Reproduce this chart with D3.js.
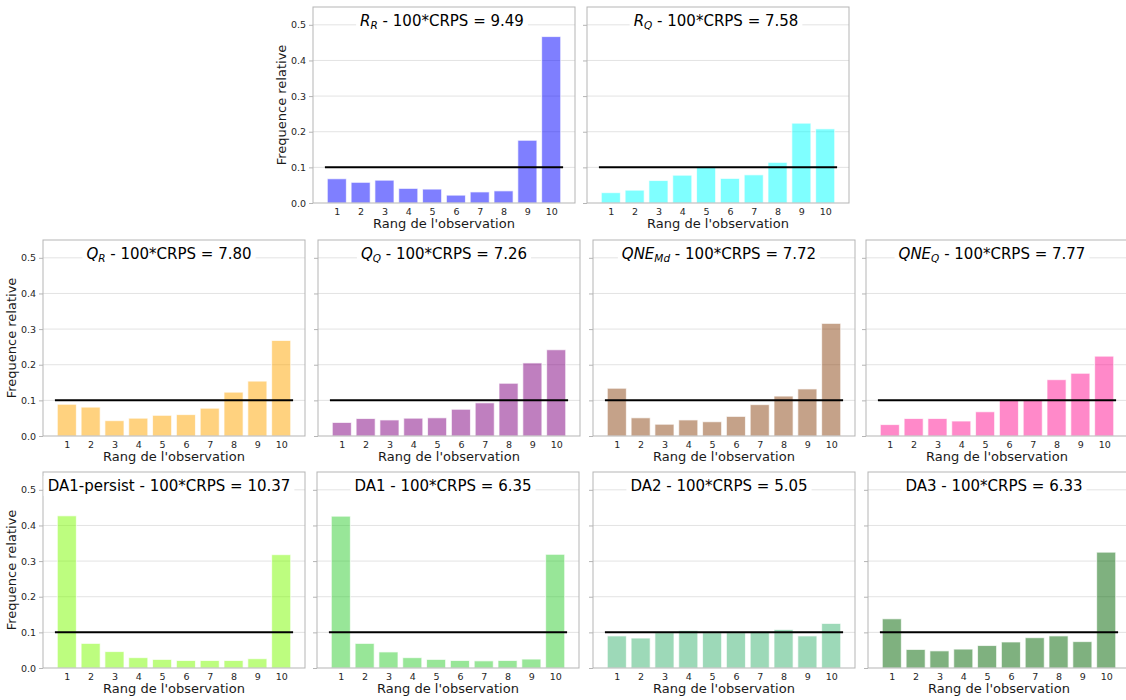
<!DOCTYPE html>
<html><head><meta charset="utf-8">
<script src="https://cdn.jsdelivr.net/npm/d3@7"></script>
<style>
body{margin:0;background:#fff;overflow:hidden}
svg{display:block}
text{font-family:"DejaVu Sans",sans-serif}
</style>
</head><body>
<svg id="c" width="1126" height="700"></svg>
<script>
// ---------- data ----------
const ranks = [1,2,3,4,5,6,7,8,9,10];
const yTickValues = [0, 0.1, 0.2, 0.3, 0.4, 0.5];
const yTickLabels = ["0.0","0.1","0.2","0.3","0.4","0.5"];
const uniformLevel = 0.1;
const xLabel = "Rang de l'observation";
const yLabel = "Frequence relative";

const modelNames = ["R_R","R_Q","Q_R","Q_Q","QNE_Md","QNE_Q","DA1-persist","DA1","DA2","DA3"];
const titleMain  = ["R","R","Q","Q","QNE","QNE","DA1-persist","DA1","DA2","DA3"];
const titleSub   = ["R","Q","R","Q","Md","Q","","","",""];
const crpsScores = ["9.49","7.58","7.80","7.26","7.72","7.77","10.37","6.35","5.05","6.33"];

const freqRR      = [0.068,0.058,0.064,0.041,0.039,0.022,0.031,0.034,0.176,0.467];
const freqRQ      = [0.029,0.036,0.063,0.078,0.100,0.069,0.079,0.114,0.224,0.208];
const freqQR      = [0.089,0.081,0.043,0.050,0.058,0.060,0.078,0.123,0.154,0.268];
const freqQQ      = [0.038,0.049,0.045,0.050,0.051,0.075,0.093,0.148,0.205,0.242];
const freqQNEMd   = [0.134,0.051,0.033,0.045,0.040,0.055,0.088,0.112,0.132,0.316];
const freqQNEQ    = [0.032,0.049,0.049,0.042,0.068,0.100,0.101,0.158,0.176,0.224];
const freqDA1p    = [0.427,0.069,0.046,0.029,0.024,0.021,0.021,0.021,0.026,0.318];
const freqDA1     = [0.426,0.069,0.045,0.029,0.024,0.021,0.020,0.021,0.025,0.319];
const freqDA2     = [0.090,0.084,0.099,0.105,0.099,0.099,0.102,0.108,0.090,0.125];
const freqDA3     = [0.138,0.052,0.048,0.053,0.063,0.073,0.085,0.090,0.074,0.325];

const seriesList = [freqRR,freqRQ,freqQR,freqQQ,freqQNEMd,freqQNEQ,freqDA1p,freqDA1,freqDA2,freqDA3];

// ---------- styles / layout ----------
const barColors = ["#0000ff","#00ffff","#ffa500","#800080","#8b4513","#ff1493","#7cfc00","#32cd32","#3cb371","#006400"];
const W = 262, H = 196;
const layout = [
  {l:313, t:7,   showY:true,  dx:-2},
  {l:587, t:7,   showY:false, dx:-2},
  {l:43,  t:240, showY:true,  dx:-5},
  {l:318, t:240, showY:false, dx:-5},
  {l:593, t:240, showY:false, dx:-5},
  {l:866, t:240, showY:false, dx:-5},
  {l:43,  t:472, showY:true,  dx:-5},
  {l:317, t:472, showY:false, dx:-5},
  {l:593, t:472, showY:false, dx:-5},
  {l:868, t:472, showY:false, dx:-5}
];

const svg = d3.select("#c");
const x = d3.scaleLinear().domain([0, 11]).range([0, W]);
const y = d3.scaleLinear().domain([0, 0.55]).range([H, 0]);

seriesList.forEach((vals, i) => {
  const L = layout[i];
  const g = svg.append("g").attr("transform", `translate(${L.l},${L.t})`);

  // gridlines
  g.append("g").selectAll("line").data(yTickValues.slice(1)).join("line")
    .attr("x1", 0).attr("x2", W)
    .attr("y1", d => y(d)).attr("y2", d => y(d))
    .attr("stroke", "#e3e3e3").attr("stroke-width", 1);

  // bars
  g.append("g").selectAll("rect").data(ranks).join("rect")
    .attr("x", d => x(d - 0.4))
    .attr("width", x(0.8) - x(0))
    .attr("y", (d, k) => y(vals[k]))
    .attr("height", (d, k) => y(0) - y(vals[k]))
    .attr("fill", barColors[i]).attr("fill-opacity", 0.5)
    .attr("stroke", "#ffffff").attr("stroke-opacity", 0.7).attr("stroke-width", 1);

  // uniform reference line
  g.append("line")
    .attr("x1", x(0.5)).attr("x2", x(10.5))
    .attr("y1", y(uniformLevel)).attr("y2", y(uniformLevel))
    .attr("stroke", "#000").attr("stroke-width", 2);

  // frame
  g.append("rect").attr("x", 0).attr("y", 0).attr("width", W).attr("height", H)
    .attr("fill", "none").attr("stroke", "#b5b5b5").attr("stroke-width", 1);

  // y axis ticks
  const yAxis = d3.axisLeft(y).tickValues(yTickValues).tickSize(4).tickPadding(3)
    .tickFormat((d, k) => L.showY ? yTickLabels[k] : "");
  const ya = g.append("g").call(yAxis);
  ya.select(".domain").remove();
  ya.selectAll(".tick line").attr("stroke", "#b5b5b5");
  ya.selectAll(".tick text").attr("fill", "#262626").style("font-size", "9.5px")
    .style("font-family", "'DejaVu Sans',sans-serif");

  // x axis labels
  const xAxis = d3.axisBottom(x).tickValues(ranks).tickSize(0).tickPadding(5).tickFormat(d3.format("d"));
  const xa = g.append("g").attr("transform", `translate(0,${H})`).call(xAxis);
  xa.select(".domain").remove();
  xa.selectAll(".tick text").attr("fill", "#262626").style("font-size", "9.5px")
    .style("font-family", "'DejaVu Sans',sans-serif");

  g.append("text").attr("x", W/2).attr("y", H + 25).attr("text-anchor", "middle")
    .style("font-size", "13px").attr("fill", "#1a1a1a").text(xLabel);

  if (L.showY) {
    g.append("text").attr("transform", `translate(-27,${H/2}) rotate(-90)`)
      .attr("text-anchor", "middle").style("font-size", "13px").attr("fill", "#1a1a1a")
      .text(yLabel);
  }

  // title with white box
  const tg = g.append("g");
  const t = tg.append("text").attr("x", W/2 + L.dx).attr("y", 19).attr("text-anchor", "middle")
    .style("font-size", "15px").attr("fill", "#000");
  if (titleSub[i]) {
    t.append("tspan").style("font-style", "italic").text(titleMain[i]);
    t.append("tspan").style("font-style", "italic").style("font-size", "10.5px").attr("dy", 3).text(titleSub[i]);
    t.append("tspan").attr("dy", -3).text(" - 100*CRPS = " + crpsScores[i]);
  } else {
    t.text(titleMain[i] + " - 100*CRPS = " + crpsScores[i]);
  }
  const bb = t.node().getBBox();
  tg.insert("rect", "text").attr("x", bb.x - 4).attr("y", bb.y - 1)
    .attr("width", bb.width + 8).attr("height", bb.height + 2).attr("fill", "#fff");
});
</script>
</body></html>
